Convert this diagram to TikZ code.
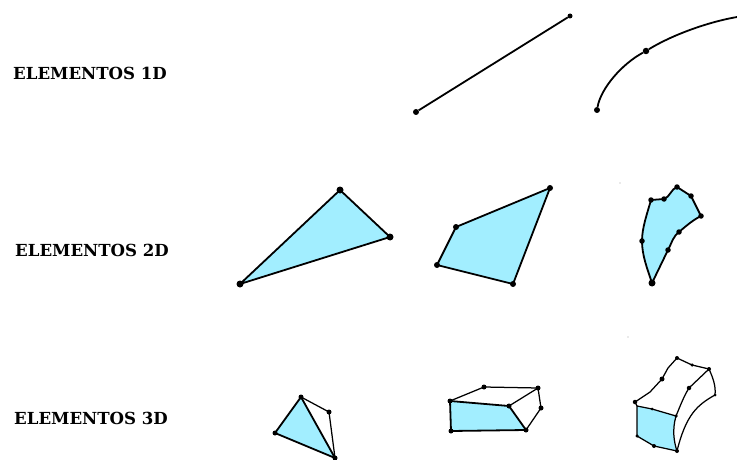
\documentclass[tikz,border=0pt]{standalone}
\usepackage{fontspec}
\setmainfont{DejaVu Serif}
\definecolor{cyanfill}{HTML}{A2EEFF}
\tikzset{
  lbl/.style={anchor=west,inner sep=0pt,font=\bfseries\fontsize{16.6}{18}\selectfont,text=black},
  thick edge/.style={draw=black,line width=1.8pt,line join=round},
  fine edge/.style={draw=black,line width=1.25pt,line join=round},
  vertex/.style={circle,fill=black,inner sep=0pt,minimum size=#1},
  vertex/.default=4.5pt,
  speck/.style={circle,fill=gray!70,inner sep=0pt,minimum size=1.2pt}
}
\begin{document}
\begin{tikzpicture}[x=1pt,y=-1pt]
\useasboundingbox (0,0) rectangle (737,460);
\node[lbl] (t1) at (13,73) {ELEMENTOS 1D};
\node[lbl] (t2) at (15,250) {ELEMENTOS 2D};
\node[lbl] (t3) at (14,418) {ELEMENTOS 3D};
% 1D
\node[vertex=6pt] (a1) at (416,112) {};
\node[vertex=5pt] (a2) at (570,16) {};
\draw[thick edge] (a1) -- (a2);
\node[vertex=6pt] (b1) at (597,110) {};
\node[vertex=6.5pt] (b2) at (646,51) {};
\coordinate (b3) at (737,17);
\draw[thick edge] (b1) .. controls (601,88) and (622,64) .. (b2) .. controls (672,35) and (708,22) .. (b3);
% 2D triangle
\coordinate (c1) at (240,284); \coordinate (c2) at (340,190); \coordinate (c3) at (390,237);
\filldraw[thick edge,fill=cyanfill] (c1) -- (c2) -- (c3) -- cycle;
\foreach \p in {c1,c2,c3} \node[vertex=7pt] at (\p) {};
% 2D quad
\coordinate (d1) at (437,265); \coordinate (d2) at (456,227); \coordinate (d3) at (550,188); \coordinate (d4) at (513,284);
\filldraw[thick edge,fill=cyanfill] (d1) -- (d2) -- (d3) -- (d4) -- cycle;
\foreach \p in {d1,d2,d3,d4} \node[vertex=6pt] at (\p) {};
% 2D curved
\coordinate (e1) at (652,283); \coordinate (e2) at (642,241); \coordinate (e3) at (651,200);
\coordinate (e4) at (664,199); \coordinate (e5) at (677,187); \coordinate (e6) at (691,196);
\coordinate (e7) at (701,216); \coordinate (e8) at (679,232); \coordinate (e9) at (668,250);
\filldraw[thick edge,fill=cyanfill] (e1) .. controls (647,268) and (642,255) .. (e2)
  .. controls (642,228) and (647,214) .. (e3) -- (e4) .. controls (670,197) and (671,189) .. (e5)
  -- (e6) -- (e7) .. controls (693,220) and (686,226) .. (e8) .. controls (673,237) and (673,240) .. (e9) -- cycle;
\foreach \p in {e2,e3,e4,e5,e6,e7,e8,e9} \node[vertex=5.5pt] at (\p) {};
\node[vertex=7pt] at (e1) {};
\node[speck] (s1) at (620,183) {};
% 3D tetra
\coordinate (f1) at (301,397); \coordinate (f2) at (329,412); \coordinate (f3) at (335,458); \coordinate (f4) at (275,433);
\filldraw[thick edge,fill=cyanfill] (f4) -- (f1) -- (f3) -- cycle;
\draw[fine edge] (f1) -- (f2) -- (f3);
\foreach \p in {f1,f2,f3,f4} \node[vertex=5pt] at (\p) {};
% 3D hexa
\coordinate (g1) at (450,401); \coordinate (g2) at (484,387); \coordinate (g3) at (538,388); \coordinate (g4) at (541,408);
\coordinate (g5) at (526,430); \coordinate (g6) at (451,431); \coordinate (g7) at (509,406);
\filldraw[thick edge,fill=cyanfill] (g1) -- (g7) -- (g5) -- (g6) -- cycle;
\draw[fine edge] (g1) -- (g2) -- (g3) -- (g4) -- (g5);
\draw[fine edge] (g7) -- (g3);
\foreach \p in {g1,g2,g3,g4,g5,g6,g7} \node[vertex=5pt] at (\p) {};
% 3D curved
\coordinate (h1) at (635,402); \coordinate (h2) at (662,379); \coordinate (h3) at (677,358);
\coordinate (h4) at (692,365); \coordinate (h5) at (709,369); \coordinate (h6) at (715,395);
\coordinate (h7) at (689,388); \coordinate (h8) at (676,416); \coordinate (h9) at (652,409);
\coordinate (h10) at (637,406); \coordinate (h11) at (637,436); \coordinate (h12) at (654,446); \coordinate (h13) at (677,451);
\filldraw[fine edge,fill=cyanfill] (h10) -- (h9) -- (h8) .. controls (672,430) and (674,442) .. (h13) -- (h12) -- (h11) -- cycle;
\draw[fine edge] (h1) -- (h10);
\draw[fine edge] (h1) -- (650,392) -- (h2) -- (668,368) -- (h3) -- (h4) -- (h5) .. controls (713,378) and (716,386) .. (h6)
  .. controls (697,405) and (686,415) .. (h13);
\draw[fine edge] (h8) .. controls (681,404) and (684,396) .. (h7) -- (h5);
\foreach \p/\s in {h1/4.5pt,h2/5pt,h3/4pt,h4/3.5pt,h5/4pt,h6/3pt,h7/4.5pt,h8/3.5pt,h9/3pt,h11/3.5pt,h12/4pt,h13/4pt} \node[vertex=\s] at (\p) {};
\node[speck] (s2) at (628,337) {};
\end{tikzpicture}
\end{document}
